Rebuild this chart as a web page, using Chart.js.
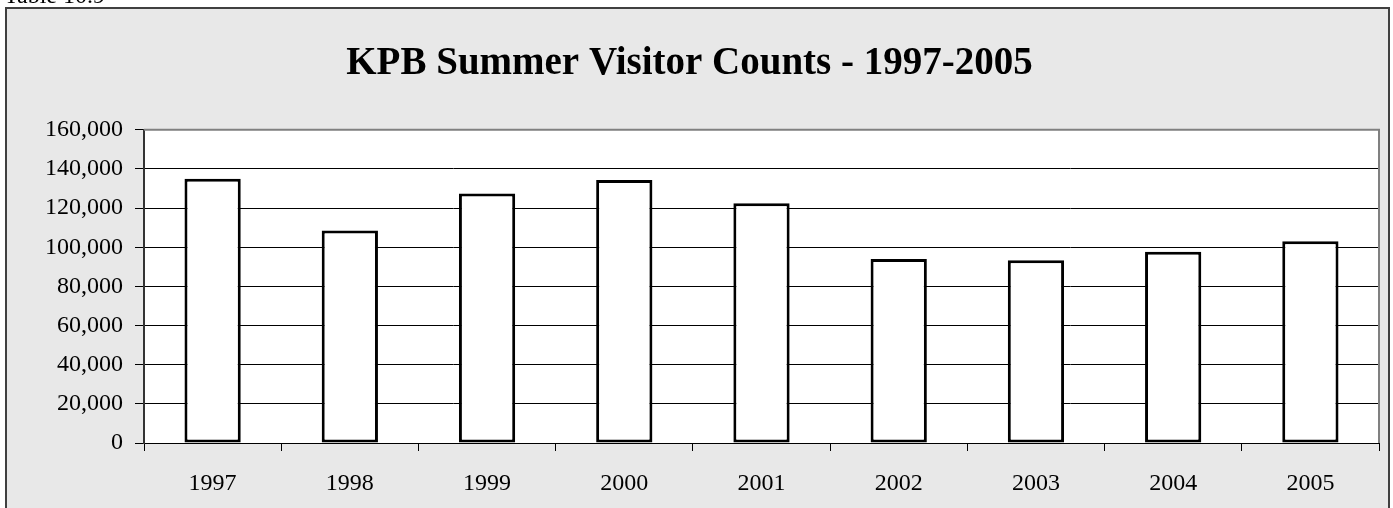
<!DOCTYPE html>
<html>
<head>
<meta charset="utf-8">
<title>KPB Summer Visitor Counts - 1997-2005</title>
<script src="https://cdn.jsdelivr.net/npm/chart.js@4.4.0/dist/chart.umd.min.js"></script>
<style>
  html, body { margin: 0; padding: 0; background: #ffffff; }
  #wrap { position: relative; width: 1393px; height: 508px; }
</style>
</head>
<body>
<div id="wrap"><canvas id="myChart"></canvas></div>
<script>
// chart data
const years = ['1997', '1998', '1999', '2000', '2001', '2002', '2003', '2004', '2005'];
const visitors = [135000, 108500, 127500, 134300, 122500, 94000, 93400, 97700, 103100];
const yTicks = [0, 20000, 40000, 60000, 80000, 100000, 120000, 140000, 160000];

const serif = "'Liberation Serif', 'Times New Roman', serif";

// gray frame behind the chart, plus the cut-off caption at the top
const framePlugin = {
    id: 'frame',
    beforeDraw(chart) {
        const c = chart.ctx;
        c.save();
        c.fillStyle = '#ffffff';
        c.fillRect(0, 0, chart.width, chart.height);
        c.fillStyle = '#e8e8e8';
        c.fillRect(6, 8, 1383, chart.height);
        c.strokeStyle = '#404040';
        c.lineWidth = 2;
        c.strokeRect(6, 8, 1383, chart.height + 10);
        c.fillStyle = '#000';
        c.font = '24px ' + serif;
        c.textBaseline = 'alphabetic';
        c.fillText('Table 10.9', 4, 3);
        const a = chart.chartArea;
        c.fillStyle = '#ffffff';
        c.fillRect(a.left, a.top, a.right - a.left, a.bottom - a.top);
        c.restore();
    },
    afterDatasetsDraw(chart) {
        const a = chart.chartArea;
        const c = chart.ctx;
        c.save();
        c.strokeStyle = '#808080';
        c.lineWidth = 2;
        c.beginPath();
        c.moveTo(a.left, a.top);
        c.lineTo(a.right, a.top);
        c.lineTo(a.right, a.bottom);
        c.stroke();
        c.restore();
    }
};

const ctx = document.getElementById('myChart').getContext('2d');

const myChart = new Chart(ctx, {
    type: 'bar',
    data: {
        labels: years,
        datasets: [{
            data: visitors,
            backgroundColor: '#ffffff',
            borderColor: '#000000',
            borderWidth: 3,
            borderSkipped: false,
            categoryPercentage: 1.0,
            barPercentage: 0.41
        }]
    },
    options: {
        responsive: true,
        maintainAspectRatio: false,
        animation: false,
        layout: { padding: { left: 0, right: 14, top: 0, bottom: 0 } },
        plugins: {
            legend: { display: false },
            tooltip: { enabled: false },
            title: {
                display: true,
                text: 'KPB Summer Visitor Counts - 1997-2005',
                color: '#000',
                font: { family: serif, size: 39, weight: 'bold' },
                padding: { top: 41, bottom: 42 }
            }
        },
        scales: {
            x: {
                offset: true,
                grid: {
                    offset: true,
                    drawOnChartArea: false,
                    drawTicks: true,
                    tickLength: 8,
                    color: '#000',
                    lineWidth: 1
                },
                border: { color: '#000', width: 1 },
                ticks: {
                    color: '#000',
                    font: { family: serif, size: 24 },
                    padding: 18,
                    maxRotation: 0
                },
                afterFit(scale) { scale.height = 65; }
            },
            y: {
                min: 0,
                max: 160000,
                afterBuildTicks(scale) {
                    scale.ticks = yTicks.map(v => ({ value: v }));
                },
                grid: {
                    color: ctx => ctx.tick && ctx.tick.value === 160000 ? '#808080' : '#000',
                    tickColor: '#000',
                    lineWidth: 1,
                    tickLength: 9
                },
                border: { color: '#333', width: 2 },
                ticks: {
                    color: '#000',
                    font: { family: serif, size: 24 },
                    padding: 12,
                    callback: v => v.toLocaleString('en-US')
                },
                afterFit(scale) { scale.width = 144; }
            }
        }
    },
    plugins: [framePlugin]
});
</script>
</body>
</html>
